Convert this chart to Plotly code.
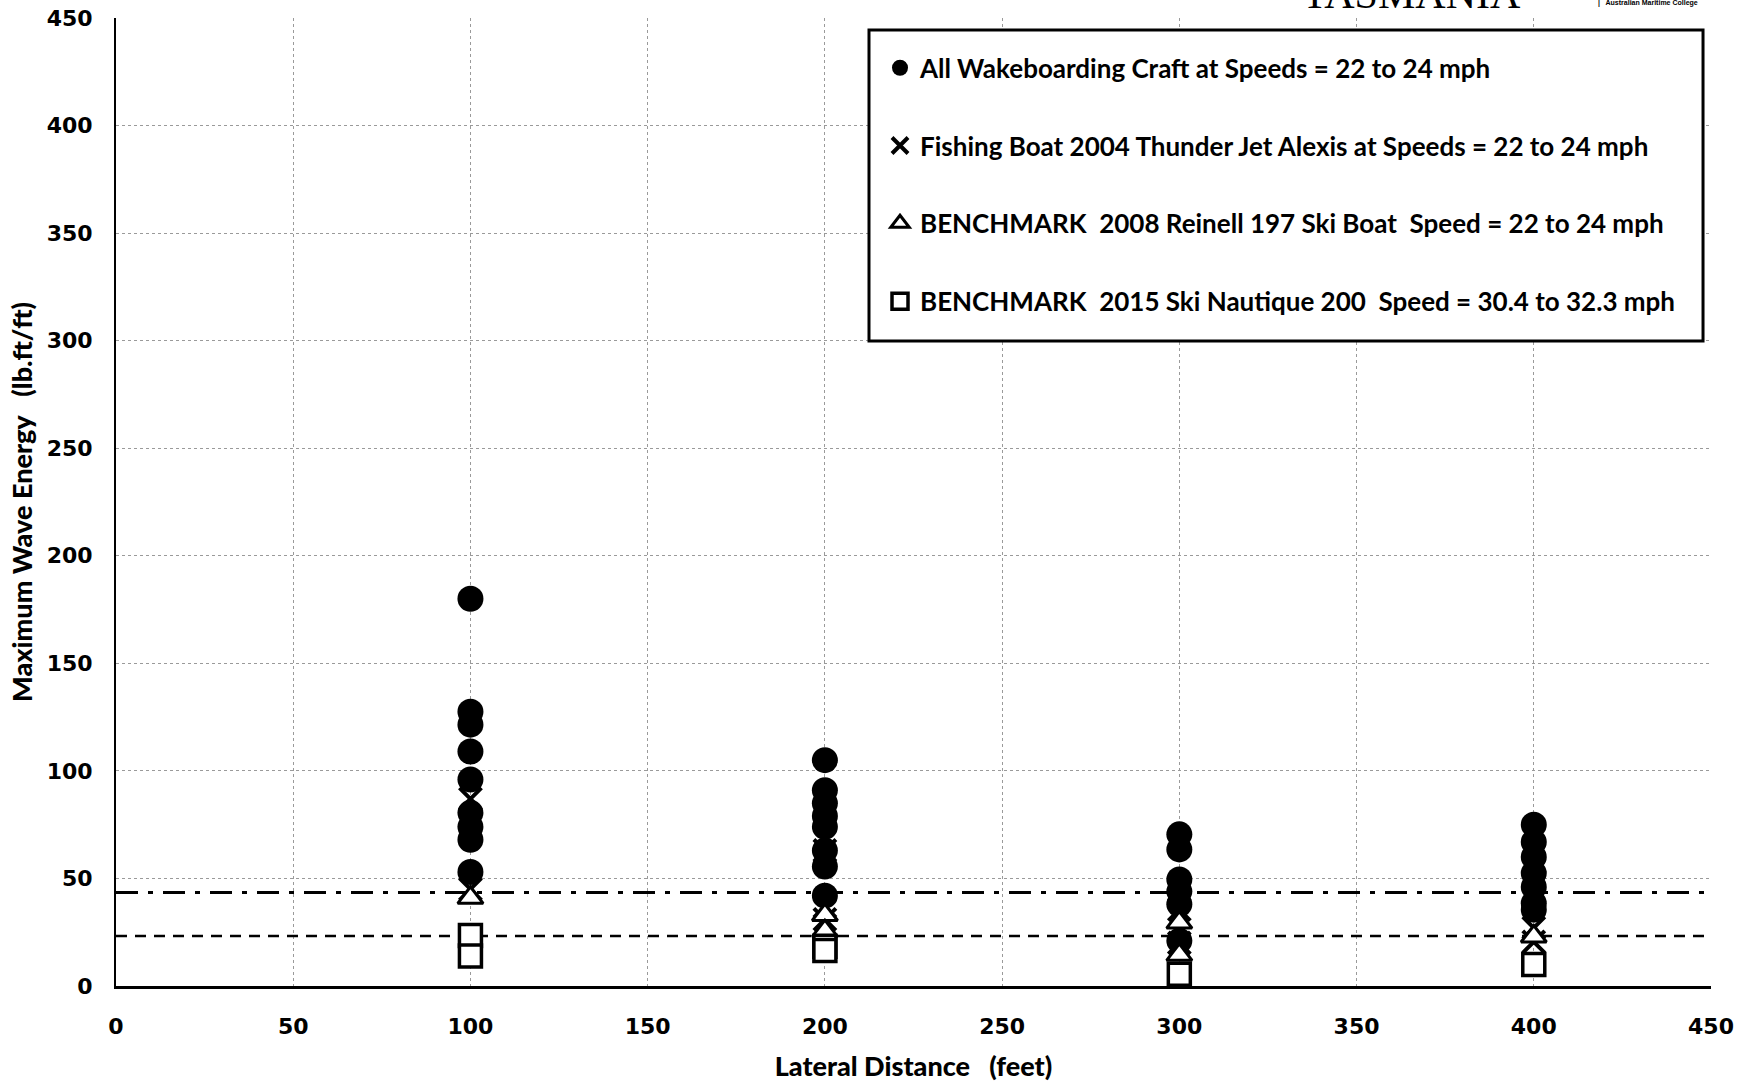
import plotly.graph_objects as go

# Lateral distance (feet) and maximum wave energy (lb.ft/ft) per craft group
wake_x = [100, 100, 100, 100, 100, 100, 100, 100, 100,
          200, 200, 200, 200, 200, 200, 200, 200,
          300, 300, 300, 300, 300, 300,
          400, 400, 400, 400, 400, 400, 400]
wake_y = [180, 127.5, 121.5, 109, 96, 80.5, 74, 68, 53,
          105, 91, 85, 79, 74, 63, 55.5, 42,
          70.5, 63.5, 49.5, 44, 38, 21,
          75, 67, 60, 52.5, 46, 38.5, 35.5]

fishing_x = [100, 100, 200, 200, 200, 300, 300, 400, 400]
fishing_y = [87, 45, 63, 37, 31, 35.5, 20, 27, 20.5]

reinell_x = [100, 200, 200, 300, 300, 400]
reinell_y = [41, 33, 25.5, 29.5, 14.5, 23]

nautique_x = [100, 100, 200, 200, 300, 400]
nautique_y = [23.5, 14, 18.5, 16.5, 5.5, 10]

# Horizontal reference levels
ref_span = [0, 450]
ref_dashdot = 43.5
ref_dashed = 23.3

names = [
    "All Wakeboarding Craft at Speeds = 22 to 24 mph",
    "Fishing Boat 2004 Thunder Jet Alexis at Speeds = 22 to 24 mph",
    "BENCHMARK\u00a0 2008 Reinell 197 Ski Boat\u00a0 Speed = 22 to 24 mph",
    "BENCHMARK\u00a0 2015 Ski Nautique 200\u00a0 Speed = 30.4 to 32.3 mph",
]

fig = go.Figure()

fig.add_trace(go.Scatter(x=ref_span, y=[ref_dashdot] * 2, mode="lines",
                         line=dict(color="black", width=3, dash="22px,10px,5px,10px"),
                         showlegend=False, hoverinfo="skip"))
fig.add_trace(go.Scatter(x=ref_span, y=[ref_dashed] * 2, mode="lines",
                         line=dict(color="black", width=2.5, dash="11px,8px"),
                         showlegend=False, hoverinfo="skip"))

fig.add_trace(go.Scatter(x=wake_x, y=wake_y, mode="markers", name=names[0],
                         legendgroup="g1",
                         marker=dict(symbol="circle", size=26, color="black")))
fig.add_trace(go.Scatter(x=fishing_x, y=fishing_y, mode="markers", name=names[1],
                         legendgroup="g2",
                         marker=dict(symbol="x-thin", size=22, color="black",
                                     line=dict(color="black", width=4))))
fig.add_trace(go.Scatter(x=reinell_x, y=reinell_y, mode="markers", name=names[2],
                         legendgroup="g3",
                         marker=dict(symbol="triangle-up", size=22, color="white",
                                     line=dict(color="black", width=3))))
fig.add_trace(go.Scatter(x=nautique_x, y=nautique_y, mode="markers", name=names[3],
                         legendgroup="g4",
                         marker=dict(symbol="square", size=22, color="white",
                                     line=dict(color="black", width=3.5))))

tick_font = dict(family="DejaVu Sans", size=22, color="black", weight="bold")
title_font = dict(family="Lato", size=27, color="black", weight=900)

fig.update_xaxes(range=[0, 450], tick0=0, dtick=50, showgrid=True,
                 gridcolor="#9a9a9a", griddash="dot", gridwidth=1,
                 showline=True, linecolor="black", linewidth=3, zeroline=False,
                 tickfont=tick_font, ticklabelstandoff=19, automargin=False,
                 title=dict(text="Lateral Distance\u00a0\u00a0 (feet)", font=title_font,
                            standoff=19))
fig.update_yaxes(range=[0, 450], tick0=0, dtick=50, showgrid=True,
                 gridcolor="#9a9a9a", griddash="dot", gridwidth=1,
                 showline=True, linecolor="black", linewidth=2, zeroline=False,
                 tickfont=tick_font, ticklabelstandoff=17, automargin=False,
                 title=dict(text="Maximum Wave Energy\u00a0\u00a0 (lb.ft/ft)", font=title_font,
                            standoff=6))

# Legend frame drawn as its own box so the padding around the entries can be set
fig.add_shape(type="rect", xref="paper", yref="paper",
              x0=0.4721, x1=0.9950, y0=0.6663, y1=0.9876,
              line=dict(color="black", width=3), fillcolor="white", layer="above")

fig.update_layout(
    width=1749, height=1084,
    margin=dict(l=116, r=38, t=18, b=98),
    plot_bgcolor="white", paper_bgcolor="white",
    legend=dict(x=0.479, y=0.9728, xanchor="left", yanchor="top",
                bgcolor="rgba(0,0,0,0)", borderwidth=0,
                font=dict(family="Lato", size=26, color="black", weight="bold"),
                traceorder="grouped", tracegroupgap=41, itemsizing="trace"),
    showlegend=True,
)

# University header, partly above the page edge
fig.add_annotation(text="TASMANIA", xref="paper", yref="paper",
                   x=0.812, y=1.0 + (18 + 6) / 968, xanchor="center", yanchor="middle",
                   showarrow=False,
                   font=dict(family="Liberation Serif", size=42, color="black"))
fig.add_annotation(text="<b>|\u00a0\u00a0 Australian Maritime College</b>", xref="paper", yref="paper",
                   x=0.928, y=1.0 + (18 - 3) / 968, xanchor="left", yanchor="middle",
                   showarrow=False,
                   font=dict(family="Liberation Sans", size=7, color="black"))

fig.write_html("out.html")
